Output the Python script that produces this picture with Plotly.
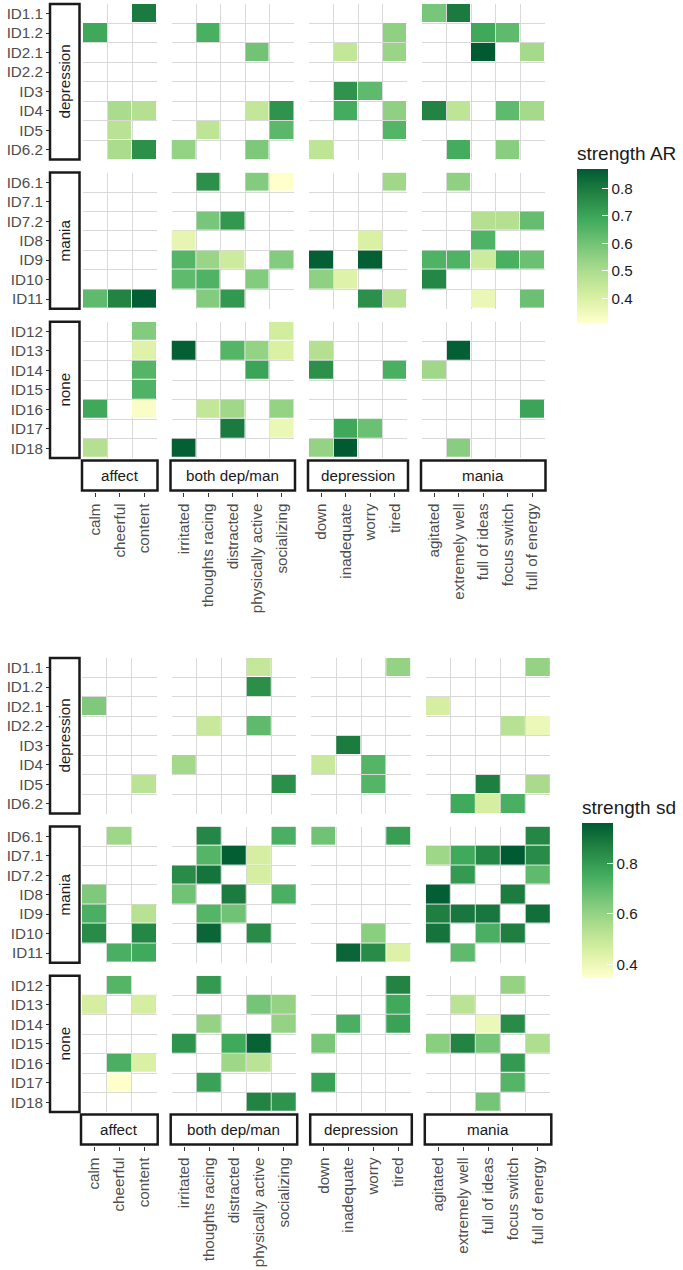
import plotly.graph_objects as go

N = None
W, H = 683, 1270

# ---------------- categories ----------------
item_groups = ["affect", "both dep/man", "depression", "mania"]
items_affect = ["calm", "cheerful", "content"]
items_both = ["irritated", "thoughts racing", "distracted", "physically active", "socializing"]
items_dep = ["down", "inadequate", "worry", "tired"]
items_mania = ["agitated", "extremely well", "full of ideas", "focus switch", "full of energy"]
item_lists = [items_affect, items_both, items_dep, items_mania]

id_groups = ["depression", "mania", "none"]
ids_dep = ["ID1.1", "ID1.2", "ID2.1", "ID2.2", "ID3", "ID4", "ID5", "ID6.2"]
ids_mania = ["ID6.1", "ID7.1", "ID7.2", "ID8", "ID9", "ID10", "ID11"]
ids_none = ["ID12", "ID13", "ID14", "ID15", "ID16", "ID17", "ID18"]
id_lists = [ids_dep, ids_mania, ids_none]

# columns: calm cheerful content | irritated thoughts distracted physically socializing |
#          down inadequate worry tired | agitated extremely ideas focus energy
# ---------------- strength AR ----------------
ar_dep = [
    [N, N, 0.80,   N, N, N, N, N,            N, N, N, N,           0.59, 0.80, N, N, N],
    [0.69, N, N,   N, 0.67, N, N, N,         N, N, N, 0.55,        N, N, 0.69, 0.63, N],
    [N, N, N,      N, N, N, 0.60, N,         N, 0.45, N, 0.53,     N, N, 0.87, N, 0.51],
    [N, N, N,      N, N, N, N, N,            N, N, N, N,           N, N, N, N, N],
    [N, N, N,      N, N, N, N, N,            N, 0.74, 0.63, N,     N, N, N, N, N],
    [N, 0.50, 0.48, N, N, N, 0.45, 0.74,     N, 0.68, N, 0.55,     0.78, 0.46, N, 0.63, 0.51],
    [N, 0.47, N,   N, 0.46, N, N, 0.64,      N, N, N, 0.65,        N, N, N, N, N],
    [N, 0.50, 0.75, 0.54, N, N, 0.58, N,     0.46, N, N, N,        N, 0.68, N, 0.56, N],
]
ar_mania = [
    [N, N, N,      N, 0.75, N, 0.57, 0.31,   N, N, N, 0.52,        N, 0.55, N, N, N],
    [N, N, N,      N, N, N, N, N,            N, N, N, N,           N, N, N, N, N],
    [N, N, N,      N, 0.59, 0.73, N, N,      N, N, N, N,           N, N, 0.48, 0.48, 0.62],
    [N, N, N,      0.37, N, N, N, N,         N, N, 0.40, N,        N, N, 0.66, N, N],
    [N, N, N,      0.65, 0.53, 0.43, N, 0.57, 0.86, N, 0.86, N,    0.66, 0.66, 0.43, 0.67, 0.61],
    [N, N, N,      0.63, 0.66, N, 0.57, N,   0.55, 0.39, N, N,     0.77, N, N, N, N],
    [0.63, 0.78, 0.86, N, 0.57, 0.73, N, N,  N, N, 0.75, 0.47,     N, N, 0.36, N, 0.61],
]
ar_none = [
    [N, N, 0.57,   N, N, N, N, 0.42,         N, N, N, N,           N, N, N, N, N],
    [N, N, 0.39,   0.86, N, 0.65, 0.54, 0.40, 0.48, N, N, N,       N, 0.86, N, N, N],
    [N, N, 0.65,   N, N, N, 0.70, N,         0.75, N, N, 0.67,     0.52, N, N, N, N],
    [N, N, 0.66,   N, N, N, N, N,            N, N, N, N,           N, N, N, N, N],
    [0.69, N, 0.32, N, 0.45, 0.52, N, 0.54,  N, N, N, N,           N, N, N, N, 0.70],
    [N, N, N,      N, N, 0.80, N, 0.36,      N, 0.69, 0.61, N,     N, N, N, N, N],
    [0.48, N, N,   0.86, N, N, N, N,         0.54, 0.87, N, N,     N, 0.56, N, N, N],
]
# ---------------- strength sd ----------------
sd_dep = [
    [N, N, N,      N, N, N, 0.50, N,         N, N, N, 0.60,        N, N, N, N, 0.60],
    [N, N, N,      N, N, N, 0.83, N,         N, N, N, N,           N, N, N, N, N],
    [0.64, N, N,   N, N, N, N, N,            N, N, N, N,           0.46, N, N, N, N],
    [N, N, N,      N, 0.49, N, 0.70, N,      N, N, N, N,           N, N, N, 0.53, 0.40],
    [N, N, N,      N, N, N, N, N,            N, 0.88, N, N,        N, N, N, N, N],
    [N, N, N,      0.57, N, N, N, N,         0.49, N, 0.72, N,     N, N, N, N, N],
    [N, N, 0.52,   N, N, N, N, 0.83,         N, N, 0.72, N,        N, N, 0.87, N, 0.56],
    [N, N, N,      N, N, N, N, N,            N, N, N, N,           N, 0.76, 0.46, 0.74, N],
]
sd_mania = [
    [N, 0.58, N,   N, 0.85, N, N, 0.74,      0.67, N, N, 0.79,     N, N, N, N, 0.85],
    [N, N, N,      N, 0.72, 0.95, 0.46, N,   N, N, N, N,           0.58, 0.76, 0.85, 0.96, 0.84],
    [N, N, N,      0.84, 0.90, N, 0.46, N,   N, N, N, N,           N, 0.80, N, N, 0.70],
    [0.64, N, N,   0.67, N, 0.88, N, 0.74,   N, N, N, N,           0.95, N, N, 0.88, N],
    [0.74, N, 0.53, N, 0.72, 0.67, N, N,     N, N, N, N,           0.87, 0.89, 0.89, N, 0.91],
    [0.84, N, 0.85, N, 0.93, N, 0.84, N,     N, N, 0.62, N,        0.90, N, 0.74, 0.87, N],
    [N, 0.74, 0.76, N, N, N, N, N,           N, 0.93, 0.84, 0.44,  N, 0.70, N, N, N],
]
sd_none = [
    [N, 0.72, N,   N, 0.80, N, N, N,         N, N, N, 0.86,        N, N, N, 0.60, N],
    [0.46, N, 0.46, N, N, N, 0.66, 0.60,     N, N, N, 0.76,        N, 0.52, N, N, N],
    [N, N, N,      N, 0.60, N, N, 0.60,      N, 0.74, N, 0.78,     N, N, 0.40, 0.84, N],
    [N, N, N,      0.82, N, 0.76, 0.94, N,   0.65, N, N, N,        0.62, 0.86, 0.66, N, 0.55],
    [N, 0.74, 0.45, N, N, 0.58, 0.52, N,     N, N, N, N,           N, N, N, 0.80, N],
    [N, 0.35, N,   N, 0.78, N, N, N,         0.78, N, N, N,        N, N, N, 0.72, N],
    [N, N, N,      N, N, N, 0.86, 0.82,      N, N, N, N,           N, N, 0.66, N, N],
]

YLGN = [[0, "#FFFFCC"], [1/6, "#D9F0A3"], [2/6, "#ADDD8E"], [3/6, "#78C679"],
        [4/6, "#41AB5D"], [5/6, "#238443"], [1, "#005A32"]]

FONT = "Liberation Sans, Arial, sans-serif"
TXT = 15.2
GRID = "#D9D9D9"

panels = [
    dict(mats=[ar_dep, ar_mania, ar_none], title="strength AR", cax="coloraxis",
         y0=4.0, x0=83.0, cw=24.5, ticks=[0.4, 0.5, 0.6, 0.7, 0.8], leg_x=577, leg_top=143),
    dict(mats=[sd_dep, sd_mania, sd_none], title="strength sd", cax="coloraxis2",
         y0=658.0, x0=82.0, cw=24.9, ticks=[0.4, 0.6, 0.8], leg_x=582, leg_top=797),
]
RH = 19.45   # row height px
GX = 15.0    # gap between column facets
GY = 13.0    # gap between row facets

def fx(p):
    return p / W

def fy(p):
    return 1 - p / H

fig = go.Figure()
layout = dict(shapes=[], annotations=[])
k = 0
col_offsets = [0, 3, 8, 12, 17]

for pi, P in enumerate(panels):
    row_ranges = []
    y = P["y0"]
    for ids in id_lists:
        row_ranges.append((y, y + len(ids) * RH))
        y += len(ids) * RH + GY
    col_ranges = []
    x = P["x0"]
    for items in item_lists:
        col_ranges.append((x, x + len(items) * P["cw"]))
        x += len(items) * P["cw"] + GX

    for ri, ids in enumerate(id_lists):
        mat = P["mats"][ri]
        for ci, items in enumerate(item_lists):
            k += 1
            sfx = "" if k == 1 else str(k)
            a, b = col_offsets[ci], col_offsets[ci + 1]
            z = [row[a:b] for row in mat]
            fig.add_trace(go.Heatmap(
                z=z, x=list(range(len(items))), y=list(range(len(ids))),
                coloraxis=P["cax"], xgap=1, ygap=1,
                xaxis="x" + sfx, yaxis="y" + sfx,
                customdata=[[f"{i} / {it}" for it in items] for i in ids],
                hovertemplate="%{customdata}: %{z}<extra></extra>",
            ))
            xr = col_ranges[ci]
            yr = row_ranges[ri]
            xa = dict(domain=[fx(xr[0]), fx(xr[1])], range=[-0.5, len(items) - 0.5],
                      showgrid=False, zeroline=False, showline=False,
                      minor=dict(tickmode="array", tickvals=[i - 0.5 for i in range(len(items) + 1)],
                                 showgrid=True, gridcolor=GRID, gridwidth=1, ticks=""),
                      fixedrange=True)
            ya = dict(domain=[fy(yr[1]), fy(yr[0])], range=[len(ids) - 0.5, -0.5],
                      showgrid=False, zeroline=False, showline=False,
                      minor=dict(tickmode="array", tickvals=[i - 0.5 for i in range(len(ids) + 1)],
                                 showgrid=True, gridcolor=GRID, gridwidth=1, ticks=""),
                      fixedrange=True)
            if ri == len(id_lists) - 1:
                xa.update(anchor="free", position=fy(yr[1] + 34.5), tickmode="array",
                          tickvals=list(range(len(items))), ticktext=items, tickangle=-90,
                          ticks="outside", ticklen=4, tickwidth=1, tickcolor="#333333",
                          tickfont=dict(size=TXT, color="#4D4D4D", family=FONT))
            else:
                xa.update(anchor="y" + sfx, showticklabels=False, ticks="")
            if ci == 0:
                ya.update(anchor="free", position=fx(50), tickmode="array",
                          tickvals=list(range(len(ids))), ticktext=ids,
                          ticks="outside", ticklen=4, tickwidth=1, tickcolor="#333333",
                          tickfont=dict(size=TXT, color="#4D4D4D", family=FONT))
            else:
                ya.update(anchor="x" + sfx, showticklabels=False, ticks="")
            layout["xaxis" + sfx] = xa
            layout["yaxis" + sfx] = ya

    # row strips
    for ri, name in enumerate(id_groups):
        yr = row_ranges[ri]
        layout["shapes"].append(dict(type="rect", xref="paper", yref="paper",
                                     x0=fx(50), x1=fx(79.5), y0=fy(yr[1]), y1=fy(yr[0]),
                                     line=dict(color="#1A1A1A", width=2.5), fillcolor="white"))
        layout["annotations"].append(dict(text=name, xref="paper", yref="paper",
                                          x=fx(64.75), y=fy((yr[0] + yr[1]) / 2), showarrow=False,
                                          xanchor="center", yanchor="middle",
                                          textangle=-90, font=dict(size=TXT, color="#1A1A1A", family=FONT)))
    # column strips
    ybot = row_ranges[-1][1]
    for ci, name in enumerate(item_groups):
        xr = col_ranges[ci]
        layout["shapes"].append(dict(type="rect", xref="paper", yref="paper",
                                     x0=fx(xr[0] - 1), x1=fx(xr[1] + 1),
                                     y0=fy(ybot + 32.5), y1=fy(ybot + 2.5),
                                     line=dict(color="#1A1A1A", width=2.5), fillcolor="white"))
        layout["annotations"].append(dict(text=name, xref="paper", yref="paper",
                                          x=fx((xr[0] + xr[1]) / 2), y=fy(ybot + 17.5), showarrow=False,
                                          xanchor="center", yanchor="middle",
                                          font=dict(size=TXT, color="#1A1A1A", family=FONT)))

    # colour axis / legend
    layout[P["cax"]] = dict(
        colorscale=YLGN,
        colorbar=dict(
            title=dict(text=P["title"], side="top", font=dict(size=19, color="#1A1A1A", family=FONT)),
            x=fx(P["leg_x"]), xanchor="left", xpad=0, ypad=0,
            thickness=31, thicknessmode="pixels",
            len=180, lenmode="pixels", y=fy(P["leg_top"]), yanchor="top",
            outlinewidth=0, ticks="inside", ticklen=6, tickwidth=1, tickcolor="white",
            tickvals=P["ticks"], tickfont=dict(size=TXT, color="#1A1A1A", family=FONT),
        ),
    )

fig.update_layout(
    width=W, height=H, margin=dict(l=0, r=0, t=0, b=0),
    paper_bgcolor="white", plot_bgcolor="white",
    font=dict(family=FONT, color="#1A1A1A"),
    **layout,
)
fig.write_html("out.html", config={"displayModeBar": False},
               post_script="document.body.style.margin='0px';")
